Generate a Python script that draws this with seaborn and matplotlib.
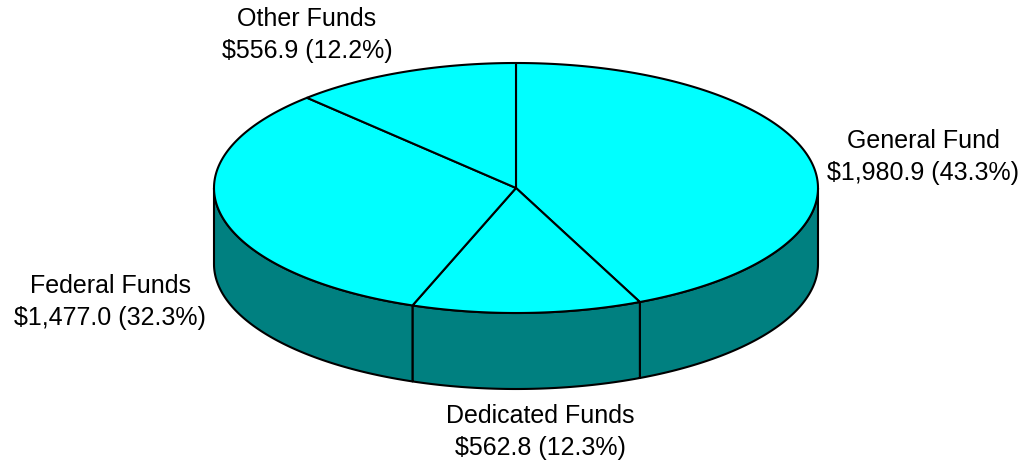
#!/usr/bin/env python3
"""
3D-style pie chart of fund sources (top face cyan, teal rim)
"""

import numpy as np
import matplotlib.pyplot as plt
import seaborn as sns
from matplotlib.patches import Polygon

# Data
labels = ["General Fund", "Dedicated Funds", "Federal Funds", "Other Funds"]
amounts = [1980.9, 562.8, 1477.0, 556.9]
percents = [43.3, 12.3, 32.3, 12.2]

# Label anchor points (pixel coords)
label_xy = [(923, 157), (540, 432), (110, 302), (307, 35)]

TOP_COLOR = "#00FFFF"
SIDE_COLOR = "#008080"
CX, CY = 516, 188      # centre of the top ellipse
RX, RY = 302, 125      # semi-axes
DEPTH = 76             # rim height
START = 90             # first slice starts at 12 o'clock, goes clockwise


def arc(a0, a1, dy=0, n=200):
    t = np.radians(np.linspace(a0, a1, n))
    return np.column_stack([CX + RX * np.cos(t), CY - RY * np.sin(t) + dy])


sns.set_theme(style="white")
plt.rcParams['font.family'] = ['Liberation Sans', 'DejaVu Sans']

fig = plt.figure(figsize=(10.29, 4.63), dpi=100)
ax = fig.add_axes([0, 0, 1, 1])
ax.set_xlim(0, 1029)
ax.set_ylim(463, 0)
ax.axis('off')

fracs = np.array(amounts) / np.sum(amounts)
bounds = START - 360 * np.concatenate([[0], np.cumsum(fracs)])

# Rim: only the front half (angles -180..0) is visible
for hi, lo in zip(bounds[:-1], bounds[1:]):
    a_hi, a_lo = min(hi, 0), max(lo, -180)
    if a_hi <= a_lo:
        continue
    top = arc(a_hi, a_lo)
    bot = arc(a_lo, a_hi, dy=DEPTH)
    ax.add_patch(Polygon(np.vstack([top, bot]), closed=True,
                         facecolor=SIDE_COLOR, edgecolor='black',
                         linewidth=1.5, joinstyle='round', zorder=1))

# Top face
for hi, lo in zip(bounds[:-1], bounds[1:]):
    pts = np.vstack([[CX, CY], arc(hi, lo)])
    ax.add_patch(Polygon(pts, closed=True, facecolor=TOP_COLOR,
                         edgecolor='black', linewidth=1.5,
                         joinstyle='round', zorder=2))

# Labels
for name, amt, pct, (x, y) in zip(labels, amounts, percents, label_xy):
    ax.text(x, y, f"{name}\n${amt:,.1f} ({pct:.1f}%)", ha='center',
            va='center', fontsize=18, linespacing=1.4, color='black')

plt.savefig('out.png', dpi=100)
plt.close()
